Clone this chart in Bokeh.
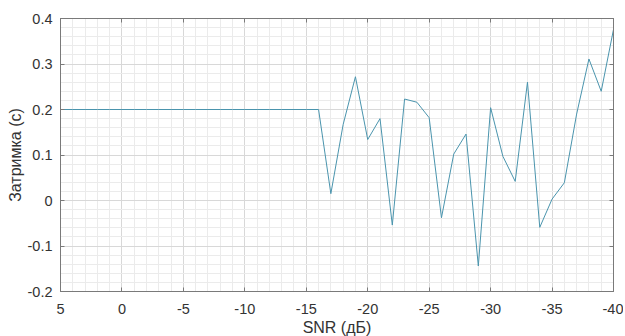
from bokeh.plotting import figure
from bokeh.models import Range1d, FixedTicker, LinearAxis, CustomJSTickFormatter, ColumnDataSource
from bokeh.embed import file_html
from bokeh.resources import INLINE

# Data
snr_db = [5, 4, 3, 2, 1, 0, -1, -2, -3, -4, -5, -6, -7, -8, -9, -10, -11, -12, -13, -14, -15, -16,
          -17, -18, -19, -20, -21, -22, -23, -24, -25, -26, -27, -28, -29, -30,
          -31, -32, -33, -34, -35, -36, -37, -38, -39, -40]
delay_s = [0.2] * 22 + [0.015, 0.167, 0.272, 0.134, 0.18, -0.054, 0.223, 0.216, 0.182, -0.038,
                        0.102, 0.146, -0.144, 0.204, 0.097, 0.042, 0.26, -0.059, 0.003, 0.039,
                        0.19, 0.311, 0.24, 0.376]

x_ticks = [5, 0, -5, -10, -15, -20, -25, -30, -35, -40]
x_minor = list(range(5, -41, -1))
y_ticks = [-0.2, -0.1, 0.0, 0.1, 0.2, 0.3, 0.4]
y_minor = [round(-0.2 + 0.02 * i, 2) for i in range(31)]

FONT = "Liberation Sans"
AXIS_COL = "#7a7a7a"
TEXT_COL = "#333333"

p = figure(frame_width=553, frame_height=273,
           x_range=Range1d(5, -40), y_range=Range1d(-0.2, 0.4),
           output_backend="svg", toolbar_location=None,
           x_axis_label="SNR (дБ)", y_axis_label="Затримка (с)",
           min_border_left=60, min_border_right=10, min_border_top=18, min_border_bottom=36)
p.background_fill_color = "white"
p.border_fill_color = "white"
p.outline_line_color = AXIS_COL
p.outline_line_width = 1

xt = FixedTicker(ticks=x_ticks, minor_ticks=x_minor)
yt = FixedTicker(ticks=y_ticks, minor_ticks=y_minor)

xfmt = CustomJSTickFormatter(code="return String(Math.round(tick));")
yfmt = CustomJSTickFormatter(code="var v = Math.round(tick*10)/10; return Math.abs(v) < 1e-9 ? '0' : String(v);")
blank = CustomJSTickFormatter(code="return '';")

for ax in p.xaxis:
    ax.ticker = xt
    ax.formatter = xfmt
for ax in p.yaxis:
    ax.ticker = yt
    ax.formatter = yfmt

for ax in list(p.xaxis) + list(p.yaxis):
    ax.axis_line_color = AXIS_COL
    ax.major_tick_line_color = AXIS_COL
    ax.major_tick_in = 4
    ax.major_tick_out = 0
    ax.minor_tick_line_color = None
    ax.major_label_text_font = FONT
    ax.major_label_text_font_size = "14.5px"
    ax.major_label_text_color = TEXT_COL
    ax.axis_label_text_font = FONT
    ax.axis_label_text_font_size = "16px"
    ax.axis_label_text_font_style = "normal"
    ax.axis_label_text_color = TEXT_COL
    ax.major_label_standoff = 4
    ax.axis_label_standoff = 1

p.xaxis.major_label_standoff = 8
p.xaxis.axis_label_standoff = 2

# Top and right axes for box ticks
top = LinearAxis(ticker=xt, formatter=blank, axis_line_color=AXIS_COL,
                 major_tick_line_color=AXIS_COL, major_tick_in=4, major_tick_out=0,
                 minor_tick_line_color=None, major_label_standoff=0)
right = LinearAxis(ticker=yt, formatter=blank, axis_line_color=AXIS_COL,
                   major_tick_line_color=AXIS_COL, major_tick_in=4, major_tick_out=0,
                   minor_tick_line_color=None, major_label_standoff=0)
p.add_layout(top, "above")
p.add_layout(right, "right")

for g in list(p.xgrid) + list(p.ygrid):
    g.grid_line_color = "#d8d8d8"
    g.grid_line_width = 1
    g.minor_grid_line_color = "#ebebeb"
    g.minor_grid_line_width = 1
p.xgrid.ticker = xt
p.ygrid.ticker = yt

src = ColumnDataSource(dict(x=snr_db, y=delay_s))
p.line("x", "y", source=src, line_color="#4a94ad", line_width=1)

open("out.html", "w").write(file_html(p, INLINE))
